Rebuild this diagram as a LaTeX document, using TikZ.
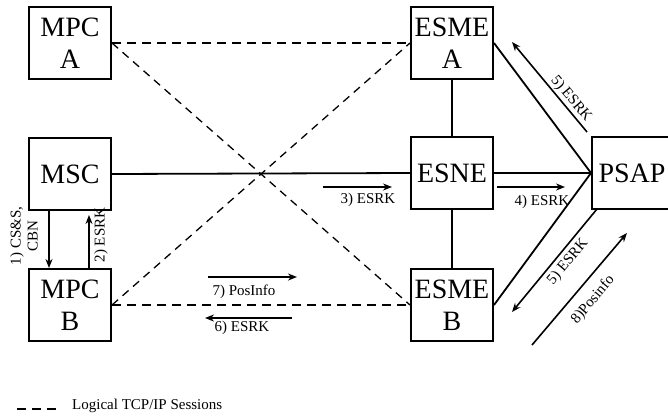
\documentclass[tikz,border=0pt]{standalone}
\usepackage{fontspec}
\setmainfont{Liberation Serif}
\usetikzlibrary{arrows.meta}
\begin{document}
\begin{tikzpicture}[x=1pt,y=-1pt,
 box/.style={draw,line width=2pt,minimum width=82pt,minimum height=72pt,inner sep=0pt,align=center,font=\fontsize{28}{32}\selectfont},
 conn/.style={line width=1.8pt},
 thickdash/.style={line width=2.4pt,dash pattern=on 9pt off 6pt},
 thindash/.style={line width=1.3pt,dash pattern=on 8pt off 6pt},
 msg/.style={line width=1.6pt,-{Stealth[length=9pt,width=7pt]}},
 lbl/.style={font=\fontsize{15}{17}\selectfont,inner sep=0pt}]
\useasboundingbox (0,0) rectangle (668,415);
% nodes
\node[box] (mpca) at (70,43) {MPC\\A};
\node[box] (msc) at (70,174) {MSC};
\node[box] (mpcb) at (70,305) {MPC\\B};
\node[box] (esmea) at (452,43) {ESME\\A};
\node[box] (esne) at (452,173) {ESNE};
\node[box] (esmeb) at (452,305) {ESME\\B};
\node[box,minimum width=80pt] (psap) at (632,173) {PSAP};
% sessions
\draw[thickdash] (mpca.east) -- (esmea.west);
\draw[thickdash] (mpcb.east) -- (esmeb.west);
\draw[thindash] (mpca.east) -- (esmeb.west);
\draw[thindash] (mpcb.east) -- (esmea.west);
% links
\draw[conn] (msc.east) -- (esne.west);
\draw[conn] (esne.east) -- (psap.west);
\draw[conn] (esmea.south) -- (esne.north);
\draw[conn] (esne.south) -- (esmeb.north);
\draw[conn] (esmea.east) -- (psap.west);
\draw[conn] (esmeb.east) -- (psap.west);
% free ends of message arrows
\coordinate (m2t) at (89,215);
\coordinate (m3a) at (323,187);
\coordinate (m3b) at (392,187);
\coordinate (m4a) at (497,187);
\coordinate (m4b) at (565,187);
\coordinate (m5a) at (587,132);
\coordinate (m5b) at (512,42);
\coordinate (m5c) at (597,209);
\coordinate (m5d) at (512,312);
\coordinate (m8a) at (532,345);
\coordinate (m8b) at (627,233);
\coordinate (m7a) at (208,277);
\coordinate (m7b) at (297,277);
\coordinate (m6a) at (292,318);
\coordinate (m6b) at (205,318);
% messages
\draw[msg] ([xshift=-21pt]msc.south) -- ([xshift=-21pt]mpcb.north);
\draw[msg] ([xshift=19pt]mpcb.north) -- (m2t);
\draw[msg] (m3a) -- (m3b);
\draw[msg] (m4a) -- (m4b);
\draw[msg] (m5a) -- (m5b);
\draw[msg] (m5c) -- (m5d);
\draw[msg] (m8a) -- (m8b);
\draw[msg] (m7a) -- (m7b);
\draw[msg] (m6a) -- (m6b);
% labels
\node[lbl,rotate=90,align=center] (l1) at (24,236) {1) CS\&S,\\CBN};
\node[lbl,rotate=90] (l2) at (101,235) {2) ESRK};
\node[lbl] (l3) at (368,200) {3) ESRK};
\node[lbl] (l4) at (542,202) {4) ESRK};
\node[lbl,rotate=-50] (l5a) at (571,99) {5) ESRK};
\node[lbl,rotate=50] (l5b) at (568,262) {5) ESRK};
\node[lbl,rotate=50] (l8) at (593,300) {8)Posinfo};
\node[lbl] (l7) at (244,292) {7) PosInfo};
\node[lbl] (l6) at (242,328) {6) ESRK};
% legend
\coordinate (lg1) at (17,409);
\coordinate (lg2) at (56,409);
\draw[thickdash] (lg1) -- (lg2);
\node[lbl,anchor=west] (lgt) at (72,406) {Logical TCP/IP Sessions};
\end{tikzpicture}
\end{document}
